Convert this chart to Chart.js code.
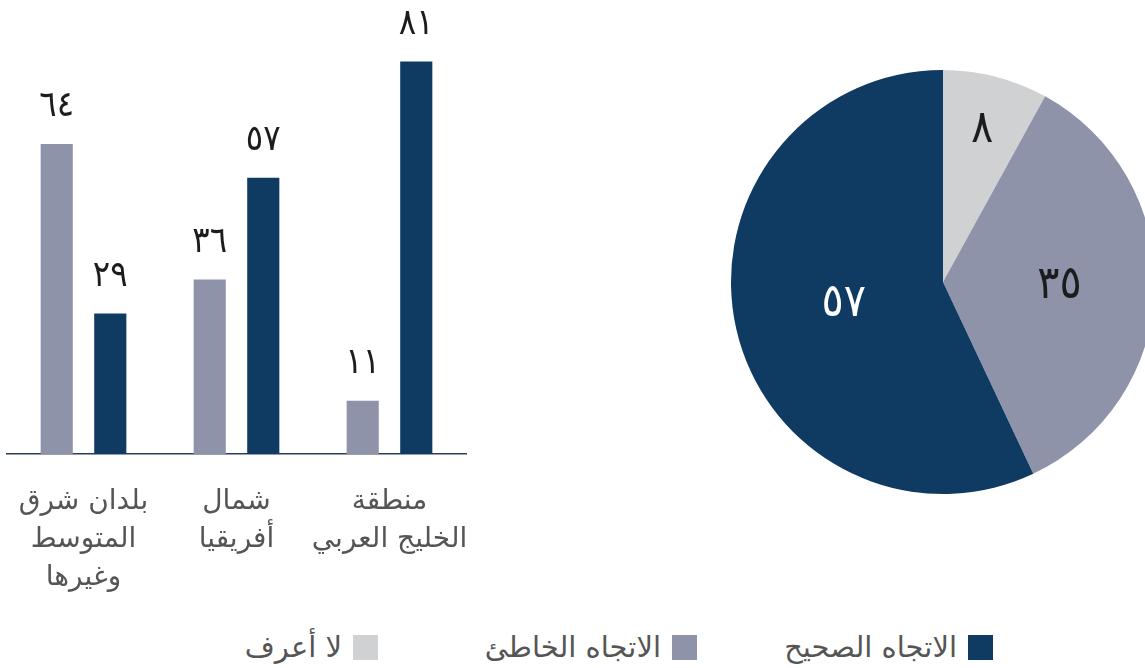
<!DOCTYPE html>
<html lang="ar">

<head>
    <meta charset="UTF-8">
    <meta name="viewport" content="width=device-width, initial-scale=1.0">
    <script src="https://cdn.jsdelivr.net/npm/chart.js@4/dist/chart.umd.min.js"></script>
    <title>اتجاه البلد</title>
    <style>
        body {
            margin: 0;
            width: 1145px;
            height: 668px;
            overflow: hidden;
            position: relative;
            background: #fff;
            font-family: "DejaVu Sans", sans-serif;
        }

        #chartRegioes {
            position: absolute;
            left: 0;
            top: 0;
        }

        #chartPizza {
            position: absolute;
            left: 728px;
            top: 67px;
        }

        .legenda-item {
            position: absolute;
            top: 630px;
            display: flex;
            flex-direction: row;
            align-items: center;
            gap: 11px;
            font-size: 29px;
            color: #555;
            direction: rtl;
            white-space: nowrap;
        }

        .legenda-item span.quadrado {
            display: inline-block;
            width: 25px;
            height: 25px;
        }
    </style>
</head>

<body>
    <canvas id="chartRegioes" width="472" height="600"></canvas>
    <canvas id="chartPizza" width="430" height="430"></canvas>
    <div id="legenda"></div>
</body>

</html>
<script>
    // categorias (da esquerda para a direita, como no desenho)
    var regions = [
        ['بلدان شرق', 'المتوسط', 'وغيرها'],
        ['شمال', 'أفريقيا'],
        ['منطقة', 'الخليج العربي']
    ];
    var wrongByRegion = [64, 36, 11];
    var correctByRegion = [29, 57, 81];

    var answerLabels = ['الاتجاه الصحيح', 'الاتجاه الخاطئ', 'لا أعرف'];
    var answerTotals = [57, 35, 8];

    var corEscura = '#0f3a62';
    var corMedia = '#8f93aa';
    var corClara = '#d0d1d3';
    var answerColors = [corEscura, corMedia, corClara];

    var fonteNumeros = '"DejaVu Sans Condensed", "DejaVu Sans", sans-serif';

    function digitosArabes(n) {
        return String(n).replace(/\d/g, function (d) { return '٠١٢٣٤٥٦٧٨٩'[d]; });
    }

    var rotulosBarras = {
        id: 'rotulosBarras',
        afterDatasetsDraw: function (chart) {
            var ctx = chart.ctx;
            ctx.save();
            ctx.font = '36px ' + fonteNumeros;
            ctx.fillStyle = '#1c1c1c';
            ctx.textAlign = 'center';
            ctx.textBaseline = 'alphabetic';
            chart.data.datasets.forEach(function (ds, i) {
                chart.getDatasetMeta(i).data.forEach(function (bar, j) {
                    ctx.fillText(digitosArabes(ds.data[j]), bar.x, bar.y - 28);
                });
            });
            ctx.restore();
        }
    };

    // distancia do centro (fração do raio) para cada fatia, na ordem desenhada
    var raioRotulo = [0.74, 0.55, 0.48];

    var rotulosPizza = {
        id: 'rotulosPizza',
        afterDatasetsDraw: function (chart) {
            var ctx = chart.ctx;
            var ds = chart.data.datasets[0];
            ctx.save();
            ctx.font = '46px ' + fonteNumeros;
            ctx.textAlign = 'center';
            ctx.textBaseline = 'middle';
            chart.getDatasetMeta(0).data.forEach(function (arc, j) {
                var meio = (arc.startAngle + arc.endAngle) / 2;
                var r = arc.outerRadius * raioRotulo[j];
                ctx.fillStyle = ds.backgroundColor[j] == corEscura ? '#ffffff' : '#1c1c1c';
                ctx.fillText(digitosArabes(ds.data[j]), arc.x + Math.cos(meio) * r, arc.y + Math.sin(meio) * r);
            });
            ctx.restore();
        }
    };

    var configRegioes = {
        type: 'bar',
        data: {
            labels: regions,
            datasets: [{
                label: answerLabels[1],
                data: wrongByRegion,
                backgroundColor: corMedia
            }, {
                label: answerLabels[0],
                data: correctByRegion,
                backgroundColor: corEscura
            }]
        },
        options: {
            responsive: false,
            animation: false,
            layout: {
                padding: { left: 7, right: 6, top: 18, bottom: 0 }
            },
            datasets: {
                bar: {
                    categoryPercentage: 0.7,
                    barPercentage: 0.6
                }
            },
            plugins: {
                legend: { display: false },
                tooltip: { enabled: false }
            },
            scales: {
                x: {
                    grid: { display: false },
                    border: { display: true, color: '#2d3f55', width: 1.5 },
                    ticks: {
                        color: '#555',
                        padding: 21,
                        maxRotation: 0,
                        autoSkip: false,
                        font: { family: '"DejaVu Sans", sans-serif', size: 28, lineHeight: 1.36 }
                    },
                    afterFit: function (scale) {
                        scale.height = 146;
                        scale.paddingLeft = 0;
                        scale.paddingRight = 0;
                    }
                },
                y: {
                    display: false,
                    min: 0,
                    max: 90
                }
            }
        },
        plugins: [rotulosBarras]
    };

    // a pizza começa no topo e gira no sentido horário: 8, 35, 57
    var configPizza = {
        type: 'pie',
        data: {
            labels: answerLabels.slice().reverse(),
            datasets: [{
                data: answerTotals.slice().reverse(),
                backgroundColor: answerColors.slice().reverse(),
                borderWidth: 0
            }]
        },
        options: {
            responsive: false,
            animation: false,
            layout: { padding: 3 },
            plugins: {
                legend: { display: false },
                tooltip: { enabled: false }
            }
        },
        plugins: [rotulosPizza]
    };

    new Chart(document.getElementById('chartRegioes').getContext('2d'), configRegioes);
    new Chart(document.getElementById('chartPizza').getContext('2d'), configPizza);

    // legenda em HTML (posição da borda direita de cada item)
    var legendaDireita = [152, 448, 767];
    var legenda = document.getElementById('legenda');
    answerLabels.forEach(function (txt, i) {
        var item = document.createElement('div');
        item.className = 'legenda-item';
        item.style.right = legendaDireita[i] + 'px';
        item.innerHTML = '<span class="quadrado" style="background:' + answerColors[i] + '"></span><span>' + txt + '</span>';
        legenda.appendChild(item);
    });
</script>
